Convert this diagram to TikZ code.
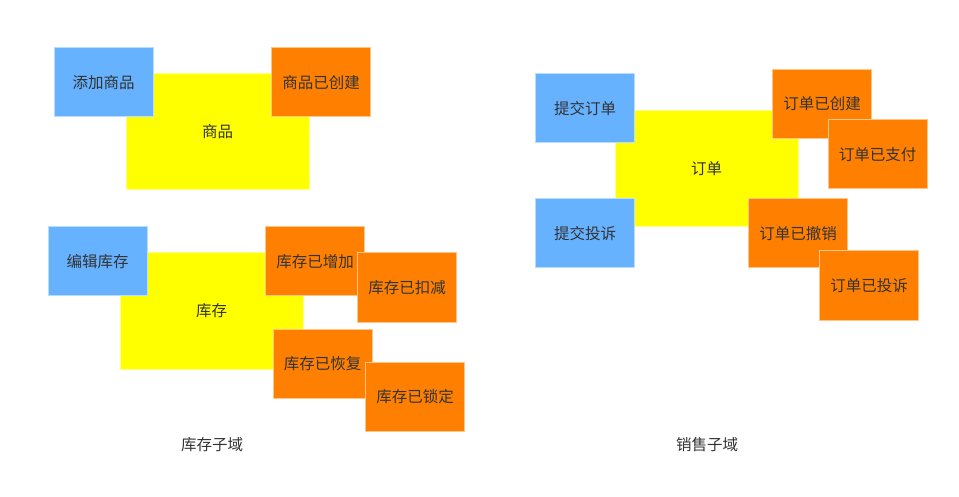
\documentclass[tikz,border=0pt]{standalone}
\usepackage{fontspec}
\setmainfont{Noto Sans CJK SC}
\usepackage{xcolor}
\definecolor{cmdblue}{HTML}{66B2FF}
\definecolor{evtorange}{HTML}{FF8000}
\definecolor{aggyellow}{HTML}{FFFF00}
\definecolor{notetext}{HTML}{333333}
\tikzstyle{note}=[anchor=center, inner sep=0pt, line width=1pt, text=notetext, font=\fontsize{15.5}{18}\selectfont]
\tikzstyle{cmd}=[note, fill=cmdblue, draw=cmdblue!45!white, minimum width=99pt, minimum height=69pt]
\tikzstyle{evt}=[note, fill=evtorange, draw=evtorange!45!white, minimum width=99pt, minimum height=69pt]
\tikzstyle{agg}=[note, fill=aggyellow, draw=aggyellow!45!white, minimum width=183pt, minimum height=116pt]
\tikzstyle{domainlabel}=[anchor=center, text=notetext, font=\fontsize{15.5}{18}\selectfont]

\begin{document}
\begin{tikzpicture}[x=1pt, y=-1pt]
	\useasboundingbox (0, 0) rectangle (959, 497);
	% 商品
	\node(sp)[agg] at (217.5, 132) {商品};
	\node(tjsp)[cmd] at (103.5, 82.5) {添加商品};
	\node(spycj)[evt] at (321, 82.5) {商品已创建};
	% 库存
	\node(kc)[agg] at (211.5, 311) {库存};
	\node(bjkc)[cmd] at (97.5, 261.5) {编辑库存};
	\node(kcyzj)[evt] at (315, 261.5) {库存已增加};
	\node(kcykj)[evt] at (407, 287.5) {库存已扣减};
	\node(kcyhf)[evt] at (322.5, 363.5) {库存已恢复};
	\node(kcysd)[evt] at (415, 396.5) {库存已锁定};
	\node(kczy)[domainlabel] at (212, 445) {库存子域};
	% 订单
	\node(dd)[agg] at (706.5, 168.5) {订单};
	\node(tjdd)[cmd] at (585, 108.5) {提交订单};
	\node(tjts)[cmd] at (585, 233.5) {提交投诉};
	\node(ddycj)[evt] at (822, 104) {订单已创建};
	\node(ddyzf)[evt] at (877.5, 154.5) {订单已支付};
	\node(ddycx)[evt] at (798, 233.5) {订单已撤销};
	\node(ddyts)[evt] at (869, 285.5) {订单已投诉};
	\node(xszy)[domainlabel] at (707, 445) {销售子域};
\end{tikzpicture}
\end{document}
